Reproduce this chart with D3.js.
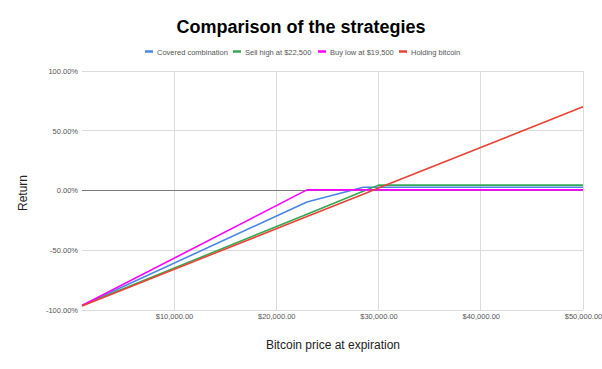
<!DOCTYPE html>
<html><head><meta charset="utf-8">
<script src="https://cdn.jsdelivr.net/npm/d3@7"></script>
<style>
html,body{margin:0;padding:0;background:#fff;}
svg{display:block;font-family:Arial,"Liberation Sans",sans-serif;}
</style></head>
<body>
<svg id="chart" width="602" height="369"></svg>
<script>
// ---- data ----
const title = "Comparison of the strategies";
const xTitle = "Bitcoin price at expiration";
const yTitle = "Return";
const prices = [1000, 23000, 28500, 30000, 50000];
const seriesNames = ["Covered combination", "Sell high at $22,500", "Buy low at $19,500", "Holding bitcoin"];
const coveredCombination = [-96.3, -9.6, 2.7, 2.7, 2.7];
const sellHigh = [-96.3, -19.8, -0.7, 4.5, 4.5];
const buyLow = [-96.3, 0.5, 0.5, 0.5, 0.5];
const holdingBitcoin = [-96.6, -21.8, -3.1, 2.0, 70.1];
const seriesColors = ["#4a86e8", "#34a853", "#ff00ff", "#ea4335"];
const xTicks = [10000, 20000, 30000, 40000, 50000];
const yTicks = [-100, -50, 0, 50, 100];

const seriesValues = [coveredCombination, sellHigh, buyLow, holdingBitcoin];

const svg = d3.select("#chart");
const x = d3.scaleLinear().domain([1000, 50000]).range([82, 583]);
const y = d3.scaleLinear().domain([-100, 100]).range([310, 71]);

// title
svg.append("text").attr("x", 301).attr("y", 33).attr("text-anchor", "middle")
  .attr("font-size", 18).attr("font-weight", "bold").attr("fill", "#000").text(title);

// grid
const g = svg.append("g");
g.selectAll(".hg").data(yTicks.filter(d => d !== 0)).join("line")
  .attr("x1", x.range()[0]).attr("x2", x.range()[1])
  .attr("y1", d => y(d)).attr("y2", d => y(d))
  .attr("stroke", "#dcdcdc").attr("stroke-width", 1).attr("shape-rendering", "crispEdges");
g.selectAll(".vg").data(xTicks).join("line")
  .attr("x1", d => x(d)).attr("x2", d => x(d))
  .attr("y1", y.range()[1]).attr("y2", y.range()[0])
  .attr("stroke", "#dcdcdc").attr("stroke-width", 1).attr("shape-rendering", "crispEdges");
g.append("line").attr("x1", x.range()[0]).attr("x2", x.range()[1])
  .attr("y1", y(0)).attr("y2", y(0)).attr("stroke", "#7a7a7a").attr("stroke-width", 1)
  .attr("shape-rendering", "crispEdges");

// axes
const fmtY = d => (d < 0 ? "-" : "") + Math.abs(d).toFixed(2) + "%";
const yAxis = d3.axisLeft(y).tickValues(yTicks).tickFormat(fmtY).tickSize(0).tickPadding(4);
svg.append("g").attr("transform", `translate(${x.range()[0]},0)`).call(yAxis)
  .call(a => a.select(".domain").remove())
  .call(a => a.selectAll("text").attr("font-size", 7.5).attr("fill", "#555").attr("font-family", "Arial, 'Liberation Sans', sans-serif"));
const fmtX = d3.format("$,.2f");
const xAxis = d3.axisBottom(x).tickValues(xTicks).tickFormat(fmtX).tickSize(0).tickPadding(4);
svg.append("g").attr("transform", `translate(0,${y.range()[0]})`).call(xAxis)
  .call(a => a.select(".domain").remove())
  .call(a => a.selectAll("text").attr("font-size", 7.5).attr("fill", "#555").attr("font-family", "Arial, 'Liberation Sans', sans-serif"));

// axis titles
svg.append("text").attr("x", 333).attr("y", 349).attr("text-anchor", "middle")
  .attr("font-size", 12).attr("fill", "#222").text(xTitle);
svg.append("text").attr("transform", "translate(27,193) rotate(-90)").attr("text-anchor", "middle")
  .attr("font-size", 12).attr("fill", "#222").text(yTitle);

// lines
const line = d3.line().x((d, i) => x(prices[i])).y(d => y(d));
svg.append("g").selectAll("path").data(seriesValues).join("path")
  .attr("d", d => line(d)).attr("fill", "none")
  .attr("stroke", (d, i) => seriesColors[i]).attr("stroke-width", 1.6)
  .attr("stroke-linejoin", "round");

// legend
const legendX = [145, 233, 318, 399];
const lg = svg.append("g");
seriesNames.forEach((n, i) => {
  lg.append("line").attr("x1", legendX[i]).attr("x2", legendX[i] + 8)
    .attr("y1", 51.5).attr("y2", 51.5).attr("stroke", seriesColors[i]).attr("stroke-width", 2.5);
  lg.append("text").attr("x", legendX[i] + 12).attr("y", 54.5)
    .attr("font-size", 7.5).attr("fill", "#555").text(n);
});
</script>
</body></html>
